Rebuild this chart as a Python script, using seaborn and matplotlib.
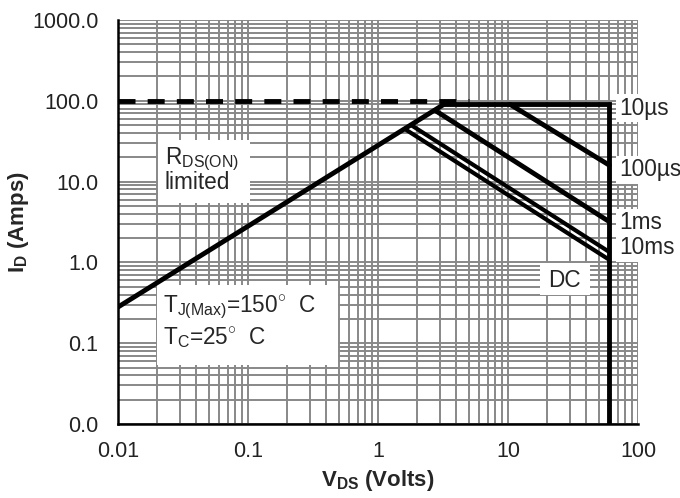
import matplotlib
matplotlib.use("Agg")
import matplotlib.pyplot as plt
import seaborn as sns
from matplotlib.patches import Rectangle
from matplotlib.ticker import LogLocator, NullFormatter

sns.set_theme(style="white")
plt.rcParams['font.family'] = ['Liberation Sans', 'DejaVu Sans']
plt.rcParams['mathtext.fontset'] = 'custom'
plt.rcParams['mathtext.rm'] = 'Liberation Sans'
plt.rcParams['mathtext.it'] = 'Liberation Sans:italic'
plt.rcParams['mathtext.bf'] = 'Liberation Sans:bold'

# Safe operating area boundaries (V_DS in volts, I_D in amps)
pkg_v = [0.01, 5.0]
pkg_i = [100, 100]
rds_v = [0.01, 3.2]
rds_i = [0.28, 90]
us10_v = [3.2, 60, 60]
us10_i = [90, 90, 0.01]
us100_v = [10.4, 60]
us100_i = [90, 16]
ms1_v = [2.75, 60]
ms1_i = [76, 3.2]
ms10_v = [1.8, 60]
ms10_i = [50, 1.35]
dc_v = [1.6, 60]
dc_i = [45, 1.08]

x_ticks = [0.01, 0.1, 1, 10, 100]
x_labels = ["0.01", "0.1", "1", "10", "100"]
y_ticks = [0.01, 0.1, 1, 10, 100, 1000]
y_labels = ["0.0", "0.1", "1.0", "10.0", "100.0", "1000.0"]

pulse_labels = ["10\u00b5s", "100\u00b5s", "1ms", "10ms"]
pulse_label_y = [0.782, 0.629, 0.498, 0.436]

FS_TICK = 15.5
FS_TXT = 16.3
FS_AX = 16

fig = plt.figure(figsize=(6.8, 4.98), dpi=100)
ax = fig.add_axes([118 / 680, 74 / 498, 520 / 680, 404 / 498])
ax.set_xscale('log')
ax.set_yscale('log')
ax.set_xlim(0.01, 100)
ax.set_ylim(0.01, 1000)

# full log grid, majors and minors alike
ax.xaxis.set_minor_locator(LogLocator(base=10, subs=range(2, 10), numticks=20))
ax.yaxis.set_minor_locator(LogLocator(base=10, subs=range(2, 10), numticks=20))
ax.xaxis.set_minor_formatter(NullFormatter())
ax.yaxis.set_minor_formatter(NullFormatter())
ax.grid(True, which='both', color='#888888', lw=1.4)
ax.set_axisbelow(True)

LW = 3.5
line_kw = dict(color='black', lw=LW, sort=False, estimator=None, ax=ax,
               zorder=4, solid_joinstyle='miter')
sns.lineplot(x=pkg_v, y=pkg_i, color='black', lw=LW, sort=False,
             estimator=None, ax=ax, zorder=4, linestyle=(0, (3.5, 2.5)))
sns.lineplot(x=rds_v, y=rds_i, **line_kw)
sns.lineplot(x=us10_v, y=us10_i, **line_kw)
sns.lineplot(x=us100_v, y=us100_i, **line_kw)
sns.lineplot(x=ms1_v, y=ms1_i, **line_kw)
sns.lineplot(x=ms10_v, y=ms10_i, color='black', lw=3.0, sort=False,
             estimator=None, ax=ax, zorder=4)
sns.lineplot(x=dc_v, y=dc_i, color='black', lw=3.0, sort=False,
             estimator=None, ax=ax, zorder=4)

ax.set_xticks(x_ticks, x_labels)
ax.set_yticks(y_ticks, y_labels)
ax.tick_params(axis='both', which='both', length=0, labelsize=FS_TICK, colors='#222222')
ax.tick_params(axis='y', pad=14)
ax.tick_params(axis='x', pad=12)

for s in ['top', 'right']:
    ax.spines[s].set_visible(False)
for s in ['left', 'bottom']:
    ax.spines[s].set_color('black')
    ax.spines[s].set_linewidth(1.8)
    ax.spines[s].set_zorder(5)

# white panels behind the annotations
for x0, y0, w, h in [(0.077, 0.547, 0.177, 0.156),
                     (0.075, 0.146, 0.348, 0.198),
                     (0.8115, 0.319, 0.096, 0.079)]:
    ax.add_patch(Rectangle((x0, y0), w, h, transform=ax.transAxes,
                           facecolor='white', edgecolor='none', zorder=2))

ax.text(0.090, 0.655, r"R$_{\mathrm{DS(ON)}}$", transform=ax.transAxes,
        fontsize=FS_TXT, ha='left', va='center', zorder=3)
ax.text(0.090, 0.597, "limited", transform=ax.transAxes,
        fontsize=FS_TXT, ha='left', va='center', zorder=3)
ax.text(0.087, 0.290, r"T$_{\mathrm{J(Max)}}$=150$^{\circ}$  C", transform=ax.transAxes,
        fontsize=FS_TXT, ha='left', va='center', zorder=3)
ax.text(0.087, 0.213, r"T$_{\mathrm{C}}$=25$^{\circ}$  C", transform=ax.transAxes,
        fontsize=FS_TXT, ha='left', va='center', zorder=3)
ax.text(0.859, 0.356, "DC", transform=ax.transAxes,
        fontsize=FS_TXT, ha='center', va='center', zorder=3)

for lab, yy in zip(pulse_labels, pulse_label_y):
    ax.text(0.963, yy, lab, transform=ax.transAxes, fontsize=FS_TXT,
            ha='left', va='center', zorder=3, clip_on=False,
            bbox=dict(facecolor='white', edgecolor='none', pad=2.0))

ax.set_xlabel(r"V$_{\mathbf{DS}}$ (Volts)", fontsize=FS_AX, fontweight='bold', va='center')
ax.xaxis.set_label_coords(0.5, -0.141)
ax.set_ylabel(r"I$_{\mathbf{D}}$ (Amps)", fontsize=FS_AX, fontweight='bold', va='center')
ax.yaxis.set_label_coords(-0.192, 0.5)

fig.savefig("out.png", dpi=100, facecolor='white')
